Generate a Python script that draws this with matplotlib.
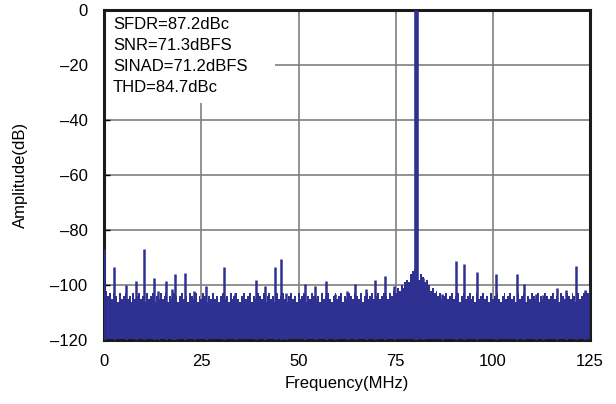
import matplotlib
matplotlib.use("Agg")
import matplotlib.pyplot as plt
from matplotlib.patches import Rectangle
import numpy as np

plt.rcParams['font.family'] = ['Liberation Sans', 'DejaVu Sans']

# Noise floor envelope, one value every 0.5 MHz from 0 to 125 MHz (dB)
floor_step_mhz = 0.5
floor_db = [
    -100, -102, -104, -103, -105, -103, -104, -106, -103, -105,
    -104, -103, -105, -104, -106, -103, -105, -104, -103, -105,
    -104, -106, -103, -105, -104, -103, -106, -104, -105, -103,
    -105, -104, -103, -106, -104, -105, -103, -104, -106, -104,
    -103, -105, -104, -106, -103, -104, -105, -103, -106, -104,
    -105, -103, -104, -106, -104, -105, -103, -105, -104, -106,
    -104, -103, -105, -104, -106, -103, -105, -104, -103, -105,
    -106, -104, -103, -105, -104, -103, -106, -104, -105, -103,
    -104, -105, -103, -106, -104, -103, -105, -104, -106, -103,
    -105, -104, -103, -105, -106, -104, -103, -105, -104, -106,
    -103, -105, -104, -103, -106, -104, -105, -103, -104, -105,
    -104, -106, -103, -105, -104, -103, -105, -106, -104, -103,
    -105, -104, -103, -106, -104, -105, -103, -104, -105, -103,
    -104, -105, -103, -106, -104, -103, -105, -104, -103, -105,
    -104, -103, -105, -104, -103, -104, -105, -103, -104, -102,
    -103, -101, -102, -100, -101, -99, -98, -99, -96, -95,
    -94, -95, -98, -96, -97, -99, -98, -100, -102, -101,
    -103, -102, -104, -103, -105, -104, -103, -105, -104, -103,
    -105, -104, -103, -106, -104, -103, -105, -104, -103, -105,
    -104, -106, -103, -105, -104, -103, -105, -104, -106, -103,
    -105, -104, -103, -105, -106, -104, -103, -105, -104, -103,
    -105, -104, -106, -103, -105, -104, -103, -106, -104, -105,
    -103, -104, -105, -103, -106, -104, -105, -103, -104, -105,
    -104, -103, -105, -104, -106, -103, -104, -105, -103, -104,
    -105, -103, -104, -106, -103, -105, -104, -103, -102, -103,
    -101,
]

# Spurious tones above the floor
spur_freq = [0.0, 2.6, 5.5, 8.1, 10.3, 12.7, 13.9, 15.8, 17.5, 18.2,
             20.8, 23.1, 26.2, 30.8, 33.6, 39.0, 41.4, 43.9, 45.4, 46.7,
             51.7, 54.2, 57.1, 59.5, 62.4, 64.4, 67.4, 69.7, 72.3, 74.6,
             82.0, 86.8, 90.5, 92.7, 95.9, 100.7, 106.2, 107.9, 111.0, 112.8,
             116.4, 118.8, 121.4, 123.7, 125.0]
spur_db = [-87, -93.3, -100, -98.5, -87, -97.5, -102, -98.5, -101.5, -96,
           -95.8, -102, -100.4, -93.6, -103, -98, -100.4, -93.6, -90.7, -103,
           -99.6, -100.4, -98.5, -103.3, -102, -99.6, -101.6, -98, -96.7, -100.4,
           -97.6, -103.3, -91.2, -92.5, -95.2, -96.1, -96.1, -99.8, -103.4, -103.6,
           -101.2, -101.8, -93.1, -101.8, -100]

# Fundamental tone
fund_freq = 80.15
fund_db = 0.0

metrics = ["SFDR=87.2dBc", "SNR=71.3dBFS", "SINAD=71.2dBFS", "THD=84.7dBc"]

x_ticks = [0, 25, 50, 75, 100, 125]
y_ticks = [0, -20, -40, -60, -80, -100, -120]

blue = "#2E3192"

fig = plt.figure(figsize=(6.16, 4.04), dpi=100)
ax = fig.add_axes([0.1693, 0.1584, 0.7885, 0.8168])

floor_freq = np.arange(len(floor_db)) * floor_step_mhz
ax.fill_between(floor_freq, -120, floor_db, step="mid", color=blue,
                linewidth=0, zorder=2)
ax.vlines(spur_freq, -120, spur_db, color=blue, linewidth=1.8, zorder=3)
ax.vlines([fund_freq], -120, [fund_db], color=blue, linewidth=3.3, zorder=3)

ax.set_xlim(0, 125)
ax.set_ylim(-120, 0)
ax.set_xticks(x_ticks)
ax.set_yticks(y_ticks)
ax.set_xticklabels([str(v) for v in x_ticks])
ax.set_yticklabels(["0" if v == 0 else "\u2013" + str(-v) for v in y_ticks])
ax.tick_params(direction="in", length=4, width=1, labelsize=12,
               colors="black")
ax.tick_params(axis="y", pad=12)
ax.tick_params(axis="x", pad=10)

ax.set_axisbelow(True)
ax.grid(True, color="#7f7f7f", linewidth=1.2)

# White panel behind the metrics text
ax.add_patch(Rectangle((0, 0.718), 0.352, 0.282, transform=ax.transAxes,
                       facecolor="white", edgecolor="none", zorder=1))
for i, line in enumerate(metrics):
    ax.text(0.018, 1 - (6.5 + 21.3 * i) / 330, line, transform=ax.transAxes,
            fontsize=12, va="top", ha="left", zorder=4)

for side in ["left", "top", "right", "bottom"]:
    ax.spines[side].set_linewidth(2.2)
    ax.spines[side].set_color("#1a1a1a")

ax.set_xlabel("Frequency(MHz)", fontsize=12, labelpad=5)
ax.set_ylabel("Amplitude(dB)", fontsize=12, labelpad=16)

fig.savefig("out.png", dpi=100)
